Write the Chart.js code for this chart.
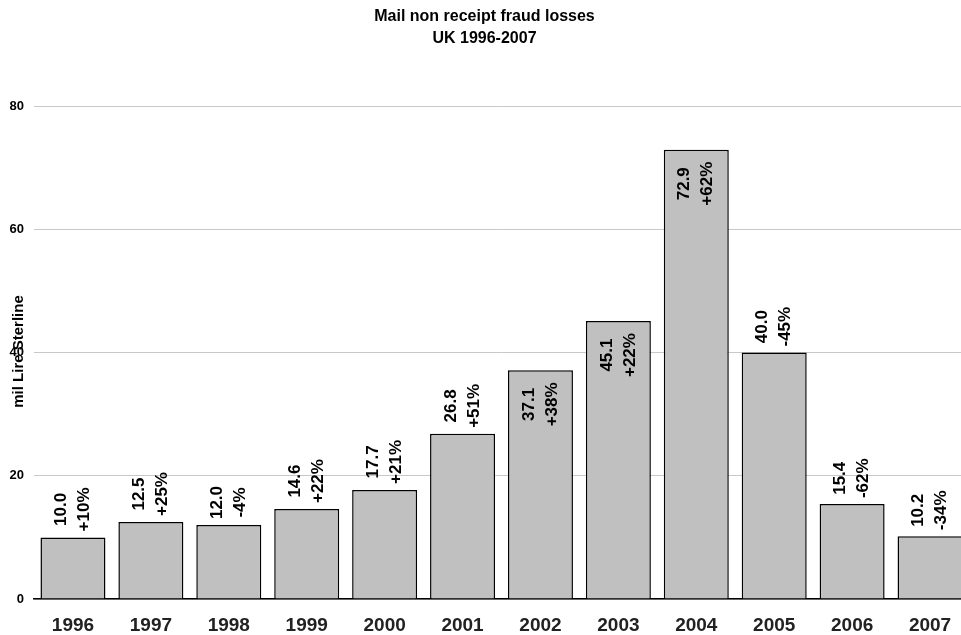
<!DOCTYPE html>
<html>
<head>
<meta charset="utf-8">
<script src="https://cdn.jsdelivr.net/npm/chart.js@4/dist/chart.umd.min.js"></script>
<style>
  html, body { margin: 0; padding: 0; background: #fff; overflow: hidden; }
  #wrap { position: absolute; left: 0; top: 0; width: 969px; height: 635px; }
</style>
</head>
<body>
<div id="wrap"><canvas id="c"></canvas></div>
<script>
const years = ['1996','1997','1998','1999','2000','2001','2002','2003','2004','2005','2006','2007'];
const losses = [10.0, 12.5, 12.0, 14.6, 17.7, 26.8, 37.1, 45.1, 72.9, 40.0, 15.4, 10.2];
const changeLabels = ['+10%','+25%','-4%','+22%','+21%','+51%','+38%','+22%','+62%','-45%','-62%','-34%'];
const yTicks = [0, 20, 40, 60, 80];
const titleLines = ['Mail non receipt fraud losses', 'UK 1996-2007'];
const yAxisTitle = 'mil Lire Sterline';

const FONT = '"Liberation Sans", Arial, Helvetica, sans-serif';

const barLabels = {
  id: 'barLabels',
  afterDatasetsDraw(chart, args, opts) {
    const ctx = chart.ctx;
    const meta = chart.getDatasetMeta(0);
    ctx.save();
    ctx.font = 'bold 17px ' + FONT;
    ctx.fillStyle = '#000';
    ctx.textAlign = 'center';
    ctx.textBaseline = 'middle';
    meta.data.forEach((el, i) => {
      const lines = [losses[i].toFixed(1), changeLabels[i]];
      const L = Math.max(...lines.map(t => ctx.measureText(t).width));
      const inside = opts.inside.includes(years[i]);
      const c = inside ? el.y + 12 + L / 2 : el.y - 6 - L / 2;
      ctx.save();
      ctx.translate(el.x, c);
      ctx.rotate(-Math.PI / 2);
      ctx.fillText(lines[0], 0, -11.5);
      ctx.fillText(lines[1], 0, 11.5);
      ctx.restore();
    });
    ctx.restore();
  }
};

const yTitle = {
  id: 'yTitle',
  afterDraw(chart) {
    const ctx = chart.ctx;
    ctx.save();
    ctx.font = 'bold 15px ' + FONT;
    ctx.fillStyle = '#000';
    ctx.textAlign = 'center';
    ctx.textBaseline = 'middle';
    ctx.translate(18.5, 351.5);
    ctx.rotate(-Math.PI / 2);
    ctx.fillText(yAxisTitle, 0, 0);
    ctx.restore();
  }
};

new Chart(document.getElementById('c'), {
  type: 'bar',
  data: {
    labels: years,
    datasets: [{
      data: losses,
      backgroundColor: '#c0c0c0',
      borderColor: '#000',
      borderWidth: 1.5,
      barPercentage: 0.834,
      categoryPercentage: 1.0
    }]
  },
  options: {
    responsive: true,
    maintainAspectRatio: false,
    animation: false,
    layout: { padding: { left: 0, right: 0, top: 0, bottom: 0 } },
    plugins: {
      legend: { display: false },
      tooltip: { enabled: false },
      title: {
        display: true,
        text: titleLines,
        color: '#000',
        font: { family: FONT, size: 16, weight: 'bold', lineHeight: 1.375 },
        padding: { top: 6, bottom: 56 }
      },
      barLabels: { inside: ['2002', '2003', '2004'] }
    },
    scales: {
      x: {
        grid: { display: false, drawTicks: false },
        border: { display: true, color: '#000', width: 1.5 },
        ticks: { color: '#222', padding: 15, font: { family: FONT, size: 19, weight: 'bold' } },
        afterFit(scale) { scale.height = 36; }
      },
      y: {
        min: 0,
        max: 80,
        afterBuildTicks(scale) { scale.ticks = yTicks.map(v => ({ value: v })); },
        grid: { color: '#c8c8c8', lineWidth: 1, drawTicks: false },
        border: { display: false },
        ticks: { color: '#000', padding: 10, font: { family: FONT, size: 13, weight: 'bold' } },
        afterFit(scale) { scale.width = 34; }
      }
    }
  },
  plugins: [barLabels, yTitle]
});
</script>
</body>
</html>
